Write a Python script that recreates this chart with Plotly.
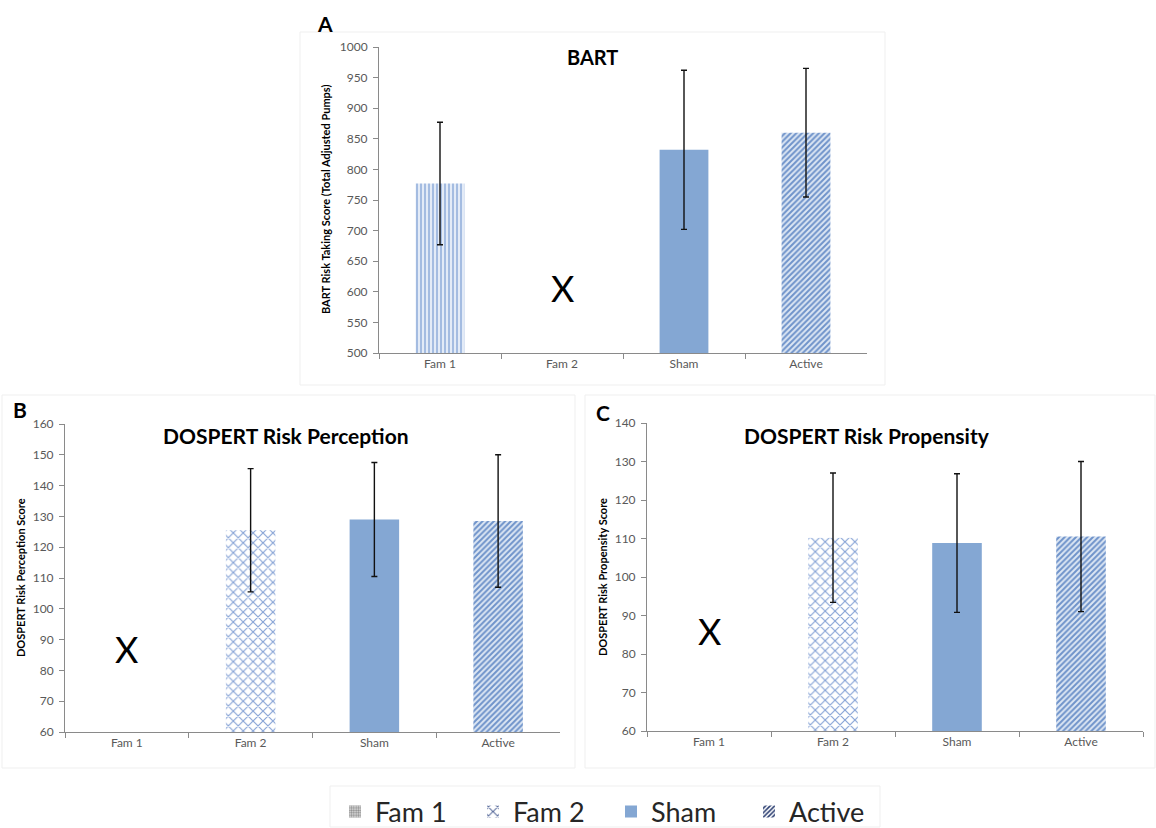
import plotly.graph_objects as go

# ---------------- data ----------------
categories = ["Fam 1", "Fam 2", "Sham", "Active"]

bart_groups = ["Fam 1", "Sham", "Active"]
bart_means = [777, 832, 860]
bart_err = [100, 130, 105]
bart_missing = ["Fam 2"]
bart_missing_y = [606]

perc_groups = ["Fam 2", "Sham", "Active"]
perc_means = [125.5, 129, 128.5]
perc_err = [20, 18.5, 21.5]
perc_missing = ["Fam 1"]
perc_missing_y = [87]

prop_groups = ["Fam 2", "Sham", "Active"]
prop_means = [110.2, 108.8, 110.5]
prop_err = [16.8, 18, 19.5]
prop_missing = ["Fam 1"]
prop_missing_y = [86]

panel_titles = ["BART", "DOSPERT Risk Perception", "DOSPERT Risk Propensity"]
panel_letters = ["A", "B", "C"]
y_titles = ["BART Risk Taking Score (Total Adjusted Pumps)",
            "DOSPERT Risk Perception Score",
            "DOSPERT Risk Propensity Score"]

# ---------------- styles ----------------
W, H = 1156, 828
FONT = "Lato, 'Open Sans', sans-serif"
AXIS_COL = "#8a8a8a"
TICK_COL = "#595959"

styles = {
    "Fam 1": dict(shape="|", fgcolor="#9db7df", bgcolor="#e3ebf7", size=4, solidity=0.45),
    "Fam 2": dict(shape="x", fgcolor="#86a3d6", bgcolor="#ffffff", size=7, solidity=0.3),
    "Sham": None,
    "Active": dict(shape="/", fgcolor="#6f93ca", bgcolor="#dde7f4", size=4, solidity=0.5),
}
SHAM_COL = "#84a7d3"

legend_styles = {
    "Fam 1": dict(shape=".", fgcolor="#8c8c8c", bgcolor="#e0e0e0", size=3, solidity=0.5),
    "Fam 2": dict(shape="x", fgcolor="#56699a", bgcolor="#ffffff", size=8, solidity=0.3),
    "Sham": None,
    "Active": dict(shape="/", fgcolor="#2d3f72", bgcolor="#ffffff", size=4, solidity=0.5),
}


def px_x(p):
    return p / W


def px_y(p):
    return 1 - p / H


fig = go.Figure()

panels = [
    ("x", "y", bart_groups, bart_means, bart_err),
    ("x2", "y2", perc_groups, perc_means, perc_err),
    ("x3", "y3", prop_groups, prop_means, prop_err),
]

for xa, ya, groups, means, errs in panels:
    for g, m, e in zip(groups, means, errs):
        st = styles[g]
        if st is None:
            marker = dict(color=SHAM_COL, line=dict(width=0))
        else:
            marker = dict(color="#ffffff", line=dict(width=0), pattern=dict(fillmode="replace", **st))
        fig.add_trace(go.Bar(
            x=[g], y=[m], xaxis=xa, yaxis=ya, width=0.4,
            marker=marker, showlegend=False,
            error_y=dict(type="data", array=[e], color="#111111", thickness=1.4, width=3),
            hoverinfo="x+y",
        ))

# legend-only entries
for g in categories:
    st = legend_styles[g]
    if st is None:
        marker = dict(color=SHAM_COL, line=dict(width=0))
    else:
        marker = dict(color="#ffffff", line=dict(width=0), pattern=dict(fillmode="replace", **st))
    fig.add_trace(go.Bar(x=[None], y=[None], xaxis="x", yaxis="y", name=g,
                         marker=marker, showlegend=True))

# ---------------- axes ----------------
domains = [
    ([379, 867], [47, 353], [500, 1000], 50),
    ([65, 560], [424, 732], [60, 160], 10),
    ([647, 1143], [423, 731], [60, 140], 10),
]

layout_axes = {}
for i, (dx, dy, yr, dt) in enumerate(domains):
    sfx = "" if i == 0 else str(i + 1)
    layout_axes["xaxis" + sfx] = dict(
        domain=[px_x(dx[0]), px_x(dx[1])], anchor="y" + sfx,
        type="category", categoryorder="array", categoryarray=categories,
        range=[-0.5, 3.5], showline=True, linecolor=AXIS_COL, linewidth=1,
        ticks="outside", tickson="boundaries", ticklen=5, tickcolor=AXIS_COL,
        tickfont=dict(family=FONT, size=12, color=TICK_COL), showgrid=False,
        fixedrange=True,
    )
    layout_axes["yaxis" + sfx] = dict(
        domain=[px_y(dy[1]), px_y(dy[0])], anchor="x" + sfx,
        range=yr, dtick=dt, tick0=yr[0], showline=True, linecolor=AXIS_COL, linewidth=1,
        ticks="outside", ticklen=5, tickcolor=AXIS_COL, ticklabelstandoff=3,
        tickfont=dict(family=FONT, size=12, color=TICK_COL), showgrid=False,
        zeroline=False, fixedrange=True,
    )

annotations = []
# panel titles
title_pos = [(592, 57), (286, 435), (867, 435)]
title_sizes = [20, 21, 21]
for t, (tx, ty), s in zip(panel_titles, title_pos, title_sizes):
    annotations.append(dict(text="<b>%s</b>" % t, x=px_x(tx), y=px_y(ty), xref="paper", yref="paper",
                            xanchor="center", yanchor="middle", showarrow=False,
                            font=dict(family=FONT, size=s, color="#000000")))
# panel letters
letter_pos = [(325, 23), (20, 409), (603, 412)]
for t, (tx, ty) in zip(panel_letters, letter_pos):
    annotations.append(dict(text="<b>%s</b>" % t, x=px_x(tx), y=px_y(ty), xref="paper", yref="paper",
                            xanchor="center", yanchor="middle", showarrow=False,
                            font=dict(family=FONT, size=21, color="#000000")))
# y-axis titles
ytitle_pos = [(326, 200), (20, 578), (602, 577)]
for t, (tx, ty) in zip(y_titles, ytitle_pos):
    annotations.append(dict(text="<b>%s</b>" % t, x=px_x(tx), y=px_y(ty), xref="paper", yref="paper",
                            xanchor="center", yanchor="middle", showarrow=False, textangle=-90,
                            font=dict(family=FONT, size=11, color="#000000")))
# "X" markers for missing groups
for (xr, yr_), cats, vals in [(("x", "y"), bart_missing, bart_missing_y),
                              (("x2", "y2"), perc_missing, perc_missing_y),
                              (("x3", "y3"), prop_missing, prop_missing_y)]:
    for c, v in zip(cats, vals):
        annotations.append(dict(text="X", x=c, y=v, xref=xr, yref=yr_, showarrow=False,
                                xanchor="center", yanchor="middle",
                                font=dict(family=FONT, size=36, color="#000000")))

# faint panel frames
shapes = []
for (x0, y0, x1, y1) in [(300, 32, 885, 385), (2, 395, 575, 768), (585, 395, 1155, 768), (330, 786, 880, 827)]:
    shapes.append(dict(type="rect", xref="paper", yref="paper",
                       x0=px_x(x0), x1=px_x(x1), y0=px_y(y1), y1=px_y(y0),
                       line=dict(color="#efefef", width=1), layer="below"))

fig.update_layout(
    width=W, height=H, autosize=False,
    margin=dict(l=0, r=0, t=0, b=0, autoexpand=False),
    paper_bgcolor="#ffffff", plot_bgcolor="#ffffff",
    barmode="overlay", bargap=0.6,
    font=dict(family=FONT, color="#000000"),
    legend=dict(orientation="h", x=px_x(335), y=px_y(812), xanchor="left", yanchor="middle",
                font=dict(family=FONT, size=27, color="#262626"), itemwidth=30,
                entrywidth=93, entrywidthmode="pixels",
                bgcolor="rgba(0,0,0,0)", traceorder="normal"),
    annotations=annotations, shapes=shapes,
    **layout_axes,
)

fig.write_html("out.html", config={"displayModeBar": False},
               post_script="document.body.style.margin='0';")
